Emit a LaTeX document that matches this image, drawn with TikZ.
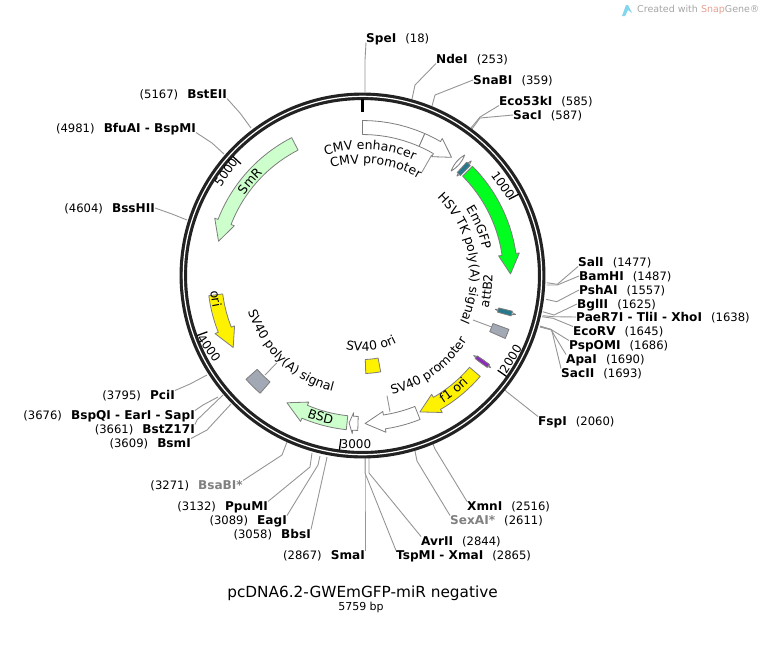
\documentclass[tikz,border=0pt]{standalone}
\usepackage{fontspec}
\setmainfont{DejaVu Sans}
\usetikzlibrary{positioning,decorations.text}
\definecolor{ringblack}{RGB}{34,34,34}
\definecolor{leadgray}{RGB}{150,150,150}
\definecolor{sitegray}{RGB}{128,128,128}
\definecolor{featline}{RGB}{125,125,125}
\definecolor{gfpgreen}{RGB}{0,255,30}
\definecolor{palegreen}{RGB}{204,255,204}
\definecolor{boxgray}{RGB}{162,169,180}
\definecolor{attteal}{RGB}{38,120,140}
\definecolor{attpurple}{RGB}{140,40,190}
\definecolor{snappink}{RGB}{232,160,145}
\definecolor{snapcyan}{RGB}{130,215,238}
\newcommand{\featfont}{\fontsize{12.5}{14}\selectfont}
\tikzset{
    sitename/.style={inner sep=0pt, text height=8.6pt, text depth=0pt, font=\fontsize{12.1}{13}\selectfont\bfseries},
    sitepos/.style={inner sep=0pt, text height=8.6pt, text depth=0pt, font=\fontsize{11.6}{13}\selectfont},
    leader/.style={leadgray, line width=0.9pt},
    feat/.style={featline, line width=0.8pt, line join=round},
    ticklabel/.style={inner sep=0pt, font=\fontsize{12}{13}\selectfont},
    ticktext/.style={inner sep=0pt}
}
% site label on the right: name, text, position, label at, ring, elbow, anchor
\newcommand{\siteright}[7]{
    \node[sitename, anchor=west] (#1) at (#4) {#2};
    \node[sitepos, right=8.7pt of #1] (#1-pos) {(#3)};
    \coordinate (#1-ring) at (#5);
    \coordinate (#1-elbow) at (#6);
    \draw[leader] (#1-ring) -- (#1-elbow) -- (#1.#7);
}
% same, label on the left
\newcommand{\siteleft}[7]{
    \node[sitename, anchor=east] (#1) at (#4) {#2};
    \node[sitepos, left=8.7pt of #1] (#1-pos) {(#3)};
    \coordinate (#1-ring) at (#5);
    \coordinate (#1-elbow) at (#6);
    \draw[leader] (#1-ring) -- (#1-elbow) -- (#1.#7);
}
% angles are clockwise from the top of the ring
\newcommand{\featarrow}[4]{
    \draw[feat, fill=#4] plot[domain=#1:#2, samples=20] (\x-90:155)
        -- (#2-90:158.5) -- (#3-90:148) -- (#2-90:137.5)
        -- plot[domain=#2:#1, samples=20] (\x-90:141) -- cycle;
}
\newcommand{\featbox}[5]{
    \draw[feat, fill=#5] plot[domain=#1:#2, samples=8] (\x-90:#4)
        -- plot[domain=#2:#1, samples=8] (\x-90:#3) -- cycle;
}
\newcommand{\featlens}[2]{
    \draw[feat, fill=#2] (#1-90:137) to[bend left=18] (#1-90:158) to[bend left=18] (#1-90:137) -- cycle;
}
\newcommand{\curvedlabel}[4]{
    \path[decorate, decoration={text along path, text align=center, text={|\featfont|#1}}]
        plot[domain=#2:#3, samples=50] (\x-90:#4);
}

\begin{document}
\begin{tikzpicture}[x=1pt, y=-1pt]
    \useasboundingbox (0,0) rectangle (765,651);
    \fill[white] (0,0) rectangle (765,651);

    % Restriction sites, right half
    \siteright{spei}{SpeI}{18}{366,38}{365,92}{365,60}{south west}
    \siteright{ndei}{NdeI}{253}{436,59}{412,99}{415,85}{south west}
    \siteright{snabi}{SnaBI}{359}{473,80}{432,106}{435,95}{west}
    \siteright{ecoi}{Eco53kI}{585}{499,101}{471,128}{480,117}{south west}
    \siteright{saci}{SacI}{587}{513,115}{472,129}{480,118}{west}
    \siteright{sali}{SalI}{1477}{578,262}{546.7,282.7}{557.3,284.3}{south west}
    \siteright{bamhi}{BamHI}{1487}{579,276}{546.7,285}{557.3,285}{west}
    \siteright{pshai}{PshAI}{1557}{579,290}{546,299.3}{556.7,301.7}{west}
    \siteright{bglii}{BglII}{1625}{577,304}{542.7,311.7}{554,315}{west}
    \siteright{paer}{PaeR7I - TliI - XhoI}{1638}{576,317}{542.7,315.7}{553.3,316.7}{west}
    \siteright{ecorv}{EcoRV}{1645}{573,331}{542,316.7}{553,318.3}{north west}
    \siteright{pspomi}{PspOMI}{1686}{569,345}{540,326}{550.7,329.3}{north west}
    \siteright{apai}{ApaI}{1690}{566,359}{540,326.7}{550.7,329.3}{north west}
    \siteright{sacii}{SacII}{1693}{561,373}{540,327}{551.7,330}{north west}
    \siteright{fspi}{FspI}{2060}{538,421}{505,390}{507,392}{north west}
    \siteright{xmni}{XmnI}{2516}{467,506}{433,444}{435,449}{north west}
    \siteright{sexai}{\textcolor{sitegray}{SexAI*}}{2611}{450,520}{415,451}{417,461}{north west}
    \siteright{avrii}{AvrII}{2844}{421,541}{369,458}{369,473}{north west}
    \siteright{tspmi}{TspMI - XmaI}{2865}{396,555}{365,458}{365,473}{north west}

    % Restriction sites, left half
    \siteleft{smai}{SmaI}{2867}{365,555}{365,458}{365,473}{north east}
    \siteleft{bbsi}{BbsI}{3058}{311,534}{327,457}{326,462}{north east}
    \siteleft{eagi}{EagI}{3089}{287,520}{320,456}{318,465}{north east}
    \siteleft{ppumi}{PpuMI}{3132}{268,506}{312,453}{310,467}{north east}
    \siteleft{bsabi}{\textcolor{sitegray}{BsaBI*}}{3271}{243,485}{287,442}{282,455}{north east}
    \siteleft{bsmi}{BsmI}{3609}{191,443}{231,404}{207,430}{north east}
    \siteleft{bstz}{BstZ17I}{3661}{195,429}{223,395}{197,420}{north east}
    \siteleft{bspqi}{BspQI - EarI - SapI}{3676}{195,415}{218,397}{203,405}{north east}
    \siteleft{pcii}{PciI}{3795}{175,395}{207,375}{190,384}{north east}
    \siteleft{bsshii}{BssHII}{4604}{155,208}{187,220}{172,214}{east}
    \siteleft{bfuai}{BfuAI - BspMI}{4981}{196,128}{224,154}{212,143}{south east}
    \siteleft{bsteii}{BstEII}{5167}{227,94}{251,128}{240,113}{south east}

    % Feature leaders
    \coordinate (cmvp-text) at (422,172);
    \coordinate (cmvp-feat) at (431.7,155);
    \draw[leader] (cmvp-text) -- (cmvp-feat);
    \coordinate (hsv-text) at (473,320);
    \coordinate (hsv-feat) at (491.7,327);
    \draw[leader] (hsv-text) -- (hsv-feat);
    \coordinate (sv-text) at (387,395.7);
    \coordinate (sv-feat) at (390,411.7);
    \draw[leader] (sv-text) -- (sv-feat);
    \coordinate (pa-text) at (276.7,363);
    \coordinate (pa-feat) at (265,375);
    \draw[leader] (pa-text) -- (pa-feat);

    \begin{scope}[shift={(362.5,275.5)}]
        % Backbone
        \draw[ringblack, line width=7.5pt] (0,0) circle (179.2pt);
        \draw[white, line width=1.2pt] (0,0) circle (179.2pt);

        % Ticks
        \draw[black, line width=3pt] (-90:163.5) -- (-90:177);
        \foreach \bp in {1000,2000,3000,4000,5000} {
            \draw[black, line width=1.3pt] (\bp/5759*360-90:165) -- (\bp/5759*360-90:176);
        }

        % Features
        \featbox{0}{23.7}{141}{155}{white}
        \featarrow{23.7}{30.2}{37}{white}
        \featarrow{45.2}{81.8}{89.4}{gfpgreen}
        \featarrow{-27.2}{-68.8}{-76.6}{palegreen}
        \featarrow{-97.5}{-111.5}{-119.1}{yellow}
        \featarrow{130.6}{149.8}{157.2}{yellow}
        \featarrow{158.2}{171.5}{179}{white}
        \featarrow{186}{203}{210.7}{palegreen}
        \featarrow{181.75}{183.7}{185.2}{white}
        \featbox{110.2}{113.8}{139}{156}{boxgray}
        \featbox{221}{228.3}{141}{156}{boxgray}
        \featbox{169.3}{178.1}{84}{98}{yellow}

        % Small att sites
        \featlens{40.3}{white}
        \featlens{43.5}{white}
        \featbox{42.6}{44.4}{140}{154}{attteal}
        \featlens{104.3}{white}
        \featbox{103.4}{105.2}{140}{154}{attteal}
        \featlens{125.7}{white}
        \featbox{125}{126.4}{140}{155}{attpurple}

        % Feature labels
        \curvedlabel{CMV enhancer}{-25}{32}{126}
        \curvedlabel{CMV promoter}{-25}{39}{112}
        \curvedlabel{EmGFP}{45}{90}{123}
        \curvedlabel{HSV TK poly(A) signal}{35}{124}{108}
        \curvedlabel{attB2}{115}{79}{130}
        \curvedlabel{SV40 promoter}{175}{113}{123}
        \curvedlabel{f1 ori}{165}{118}{151}
        \curvedlabel{SV40 ori}{220}{126}{75.5}
        \curvedlabel{BSD}{225}{168}{152}
        \curvedlabel{SV40 poly(A) signal}{265}{182}{120}
        \curvedlabel{ori}{285}{237}{153}
        \curvedlabel{SmR}{-80}{-20}{143}
    \end{scope}

    % Tick numbers
    \foreach \num/\xx/\yy/\rot in {1000/503/185/-55,2000/510.7/359/58,3000/356/444.5/0,4000/209/348/-55,5000/226/172/55} {
        \node[ticklabel, rotate=\rot] (tick\num) at (\xx,\yy) {\num};
    }

    % Title
    \node[ticktext, font=\fontsize{15.3}{16}\selectfont] (plasmid) at (362.5,593) {pcDNA6.2-GWEmGFP-miR negative};
    \node[ticktext, font=\fontsize{11}{12}\selectfont] (plasmidsize) at (361,607) {5759 bp};

    % Credit line
    \fill[snapcyan] (622,16) -- (626,5) -- (628,5) -- (632,13) -- (628,10) -- (625,16) -- cycle;
    \node[ticktext, anchor=west, text=gray!70, font=\fontsize{9.5}{11}\selectfont] (credit) at (637,10) {Created with \textcolor{snappink}{Snap}Gene®};
\end{tikzpicture}
\end{document}
